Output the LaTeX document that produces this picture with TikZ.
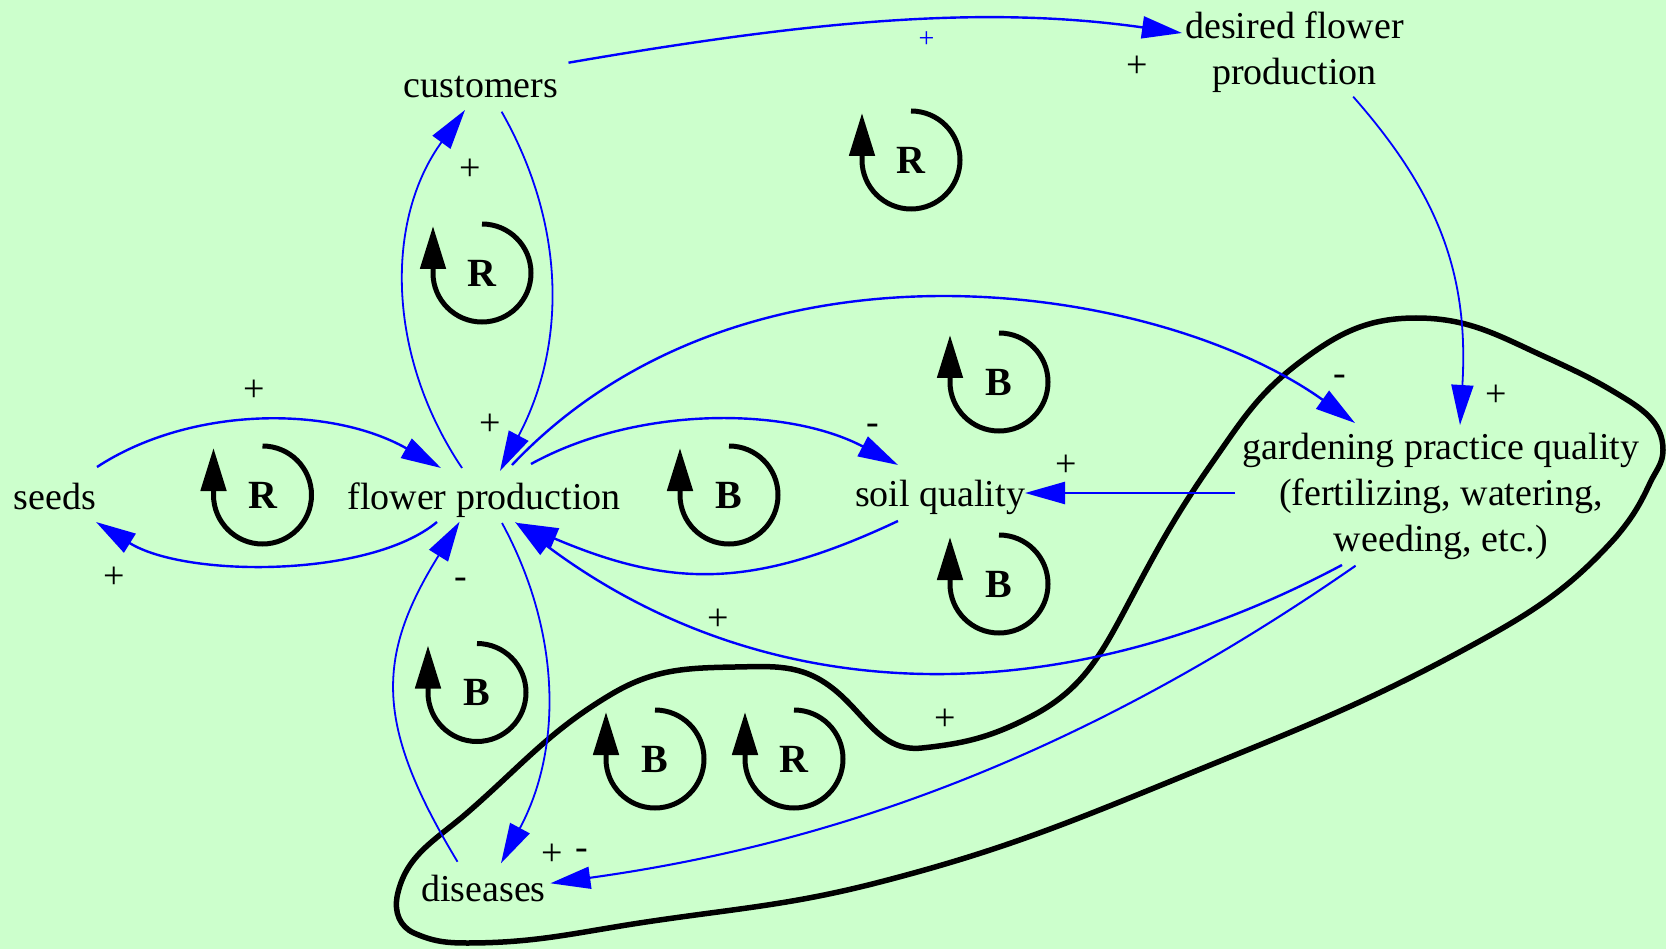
\documentclass[tikz,border=0pt]{standalone}
\usepackage{fontspec}
\setmainfont{Liberation Serif}
\usetikzlibrary{arrows.meta,calc}
\definecolor{bgc}{RGB}{204,255,204}
\begin{document}
\begin{tikzpicture}[x=1pt,y=-1pt,
  lbl/.style={font=\fontsize{38}{46}\selectfont, inner sep=0pt, anchor=base},
  sgn/.style={font=\fontsize{38}{46}\selectfont, inner sep=0pt},
  lp/.style={font=\fontsize{40}{46}\selectfont\bfseries, inner sep=0pt},
  link/.style={draw=blue, line width=2.4pt, -{Triangle[length=40pt,width=22pt]}},
  thinlink/.style={link, line width=1.8pt},
  loopline/.style={line width=5pt, -{Triangle[length=43pt,width=25pt]}},
  hull/.style={line width=5.5pt, line join=round},
]
\useasboundingbox (0,0) rectangle (1666,949);
\fill[bgc] (0,0) rectangle (1666,949);

% hull curve
\draw[hull] (397,897)
  .. controls +(8.1,-41.8) and +(-32.2,27.9) .. (467,813)
  .. controls +(54.6,-47.4) and +(-62,37.2) .. (610,695)
  .. controls +(42.9,-25.8) and +(-50,0.9) .. (735,667)
  .. controls +(38.3,-0.7) and +(-30.6,-23.1) .. (831,687)
  .. controls +(34.1,25.7) and +(-42.5,4.5) .. (922,748)
  .. controls +(43.6,-4.6) and +(-39,19.9) .. (1030,717)
  .. controls +(51.2,-26.1) and +(-27,50.8) .. (1127,606)
  .. controls +(30.4,-57.3) and +(-37.2,53.2) .. (1212,463)
  .. controls +(30,-42.8) and +(-41.8,31.5) .. (1300,362)
  .. controls +(38.7,-29.1) and +(-48.4,0) .. (1416,318)
  .. controls +(55.5,0) and +(-50.7,-22.6) .. (1552,360)
  .. controls +(25.5,11.9) and +(-24.1,-14.5) .. (1616,393)
  .. controls +(24.7,14.8) and +(0,-28.8) .. (1663,450)
  .. controls +(0,13.8) and +(5.8,-12.5) .. (1650,483)
  .. controls +(-10.5,22.6) and +(16,-19.1) .. (1616,537)
  .. controls +(-48.5,53.9) and +(63.7,-34.6) .. (1467,648)
  .. controls +(-107.6,58.4) and +(113.3,-46.3) .. (1181,777)
  .. controls +(-115.1,47) and +(120.3,-31.1) .. (880,882)
  .. controls +(-89.6,23.2) and +(91.6,-13.7) .. (646,922)
  .. controls +(-69.5,10.4) and +(70.3,0) .. (467,943)
  .. controls +(-21,0) and +(19.2,8.5) .. (414,933)
  .. controls +(-14.2,-6.3) and +(-2.7,15.3) .. (397,897)
  -- cycle;

% nodes
\node[lbl] (cu) at (481,98) {customers};
\node[lbl] (de) at (1294.5,38.5) {\begin{tabular}[t]{@{}c@{}}desired flower\\production\end{tabular}};
\node[lbl] (sd) at (55,509) {seeds};
\node[lbl] (fp) at (484,509) {flower production};
\node[lbl] (sq) at (940,507) {soil quality};
\node[lbl] (gp) at (1441,460) {\begin{tabular}[t]{@{}c@{}}gardening practice quality\\(fertilizing, watering,\\weeding, etc.)\end{tabular}};
\node[lbl] (di) at (483.5,901) {diseases};

% edges
\draw[link] ($(sd.base)+(42,-42)$) .. controls +(94,-61.5) and +(-110,-62.5) .. ($(fp.base)+(-43,-41)$);
\draw[link] ($(fp.base)+(-47,13)$) .. controls +(-67,56) and +(89.5,56) .. ($(sd.base)+(41,13)$);
\draw[thinlink] ($(fp.base)+(-22,-41)$) .. controls +(-76.5,-114) and +(-79.5,109) .. ($(cu.base)+(-16,12)$);
\draw[thinlink] ($(cu.base)+(20.6,13.7)$) .. controls +(64.8,113.9) and +(66.4,-125.5) .. ($(fp.base)+(16,-38)$);
\draw[link] ($(fp.base)+(47,-45)$) .. controls +(105,-58) and +(-112,-59) .. ($(sq.base)+(-42,-42)$);
\draw[link] ($(sq.base)+(-42,14)$) .. controls +(-144,67.7) and +(154.6,65.7) .. ($(fp.base)+(34,14)$);
\draw[link] ($(gp.base)+(-99,105)$) .. controls +(-299,159) and +(240,180) .. ($(fp.base)+(31,13)$);
\draw[link] ($(fp.base)+(28,-44)$) .. controls +(235,-248) and +(-194,-139) .. ($(gp.base)+(-86,-37)$);
\draw[link] ($(gp.base)+(-206,33)$) -- ($(sq.base)+(85,-14)$);
\draw[link] ($(cu.base)+(87.5,-35.3)$) .. controls +(246.3,-42.5) and +(-197.5,-28) .. ($(de.base)+(-112.5,-5.5)$);
\draw[thinlink] ($(de.base)+(58.7,58.2)$) .. controls +(85.8,97.5) and +(9,-150) .. ($(gp.base)+(19,-35)$);
\draw[thinlink] ($(fp.base)+(18,14)$) .. controls +(60,110.5) and +(61,-113.5) .. ($(di.base)+(17.5,-37.7)$);
\draw[thinlink] ($(di.base)+(-26,-39.3)$) .. controls +(-82.5,-136.7) and +(-84.6,136.3) .. ($(fp.base)+(-24.4,12.7)$);
\draw[link, line width=2.1pt] ($(gp.base)+(-85.4,105.7)$) .. controls +(-303.6,210.9) and +(247.5,-34.5) .. ($(di.base)+(66.9,-17.7)$);

% polarity signs
\node[sgn] (s1) at (254,391) {+};
\node[sgn] (s2) at (114,578) {+};
\node[sgn] (s3) at (470,170) {+};
\node[sgn] (s4) at (490,425) {+};
\node[sgn] (s5) at (873,429) {-};
\node[sgn] (s6) at (718,620) {+};
\node[sgn] (s7) at (1340,380) {-};
\node[sgn] (s8) at (1496,396) {+};
\node[sgn] (s9) at (1066,466) {+};
\node[sgn, font=\fontsize{28}{34}\selectfont, text=blue] (s10) at (926.5,40) {+};
\node[sgn] (s11) at (1137,67) {+};
\node[sgn] (s12) at (461,583) {-};
\node[sgn] (s13) at (552,855) {+};
\node[sgn] (s14) at (582,854) {-};
\node[sgn] (s15) at (945,720) {+};

% loop markers
\foreach \cx/\cy/\t [count=\k] in {262.5/495/R, 482/273/R, 911/160/R, 999/382/B, 729/495/B, 999/584/B, 477/692.5/B, 655/759/B, 794/759/R}{
  \draw[loopline] (\cx,\cy-49) arc[start angle=-90,end angle=180,radius=49] -- ++(0,-47);
  \node[lp] (loop\k) at (\cx,\cy) {\t};
}
\end{tikzpicture}
\end{document}
